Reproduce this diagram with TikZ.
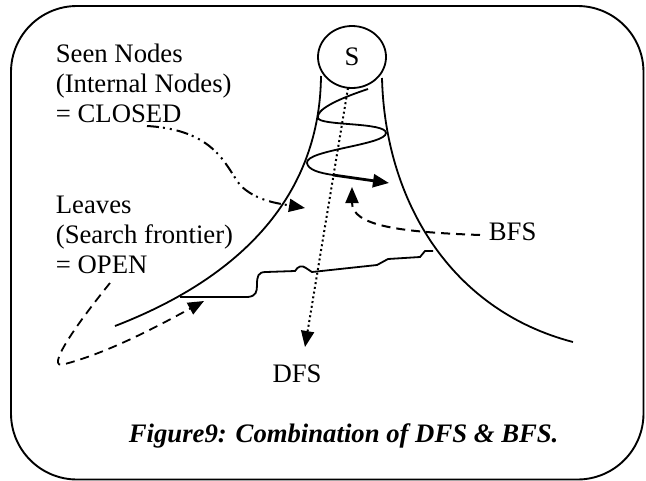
\documentclass[tikz,border=0pt]{standalone}
\usepackage{fontspec}
\setmainfont{Liberation Serif}
\usetikzlibrary{arrows.meta,shapes.geometric}
\begin{document}
\begin{tikzpicture}[x=1pt,y=-1pt,
  line width=1.8pt,
  label/.style={font=\fontsize{26.7}{30}\selectfont, inner sep=0pt, anchor=base west, align=left},
  tip/.style={-{Triangle[length=16pt,width=13pt]}},
  dotline/.style={dash pattern=on 2pt off 2.8pt},
  dashdotdot/.style={dash pattern=on 12pt off 4pt on 2pt off 5pt on 2pt off 5pt},
  longdash/.style={dash pattern=on 9pt off 6pt}]
\useasboundingbox (0,0) rectangle (646,480);

% outer frame
\draw[line width=1.9pt, rounded corners=66pt] (11,6) rectangle (643.5,479.5);

% start node
\node[draw, ellipse, minimum width=68pt, minimum height=62pt, inner sep=0pt,
      font=\fontsize{26.7}{30}\selectfont] (s) at (352,57) {S};

% search tree outline
\draw (321,76) .. controls (320,180) and (260,270) .. (115,326);
\draw (382,78) .. controls (385,200) and (450,310) .. (573,342);

% breadth-first spiral ending in a thick arrow
\coordinate (spiralend) at (333,175);
\coordinate (bfstip) at (389,183);
\draw (368,89) .. controls (335,100) and (316,110) .. (318,118)
      .. controls (320,126) and (386,122) .. (386,133)
      .. controls (386,145) and (305,150) .. (307,163)
      .. controls (308,170) and (320,173) .. (spiralend);
\draw[tip, line width=2.8pt] (spiralend) -- (bfstip);

% search frontier
\draw (180,297) -- (248,297) .. controls (256,296) and (257,292) .. (257,285)
      .. controls (257,276) and (258,272) .. (266,272) -- (295,271)
      .. controls (298,266) and (302,265) .. (306,268) -- (312,272)
      -- (377,265) -- (388,259) -- (420,257) -- (425,251) -- (433,251);

% depth-first dotted arrow
\coordinate (dfsstart) at (348,88);
\node[label, anchor=base] (dfs) at (297,382) {DFS};
\coordinate (dfstip) at (305,347);
\draw[tip, dotline, line width=2pt] (dfsstart) -- (dfstip);

% BFS label and its arrow
\node[label] (bfs) at (488,240) {BFS};
\coordinate (bfsfrom) at (480,235);
\coordinate (bfsarrow) at (352,187);
\draw[tip, longdash, line width=2pt] (bfsfrom)
      .. controls (400,232) and (352,226) .. (bfsarrow);

% left-hand labels
\node[label] (seen) at (55,62) {Seen Nodes};
\node[label] (internal) at (55,92) {(Internal Nodes)};
\node[label] (closed) at (55,122) {= CLOSED};
\node[label] (leaves) at (55,213) {Leaves};
\node[label] (frontier) at (55,243) {(Search frontier)};
\node[label] (open) at (55,273) {= OPEN};

% CLOSED points into the tree interior
\coordinate (closedfrom) at (147,126);
\coordinate (closedto) at (305,208);
\draw[tip, dashdotdot, line width=2pt] (closedfrom)
      .. controls (215,130) and (225,165) .. (240,185)
      .. controls (255,200) and (275,203) .. (closedto);

% OPEN points to the frontier
\coordinate (openfrom) at (110,283);
\coordinate (opento) at (204,301);
\draw[tip, longdash, line width=1.8pt] (openfrom)
      .. controls (80,320) and (42,372) .. (65,364)
      .. controls (110,352) and (160,325) .. (opento);

% caption
\node[label, font=\fontsize{26.7}{30}\selectfont\bfseries\itshape] (caption) at (128,442)
  {Figure9: Combination of DFS \& BFS.};
\end{tikzpicture}
\end{document}
